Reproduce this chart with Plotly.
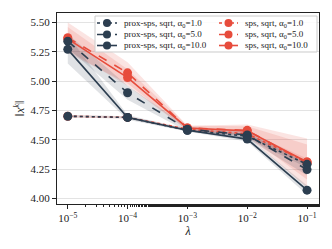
import plotly.graph_objects as go

lam = [1e-5, 1e-4, 1e-3, 1e-2, 1e-1]
x_tick_labels = ["10<sup>−5</sup>", "10<sup>−4</sup>", "10<sup>−3</sup>", "10<sup>−2</sup>", "10<sup>−1</sup>"]
y_ticks = [4.00, 4.25, 4.50, 4.75, 5.00, 5.25, 5.50]

prox_a1 = [4.70, 4.69, 4.58, 4.53, 4.29]
prox_a1_std = [0.01, 0.01, 0.01, 0.02, 0.03]
prox_a5 = [5.34, 4.90, 4.59, 4.54, 4.245]
prox_a5_std = [0.06, 0.06, 0.02, 0.03, 0.05]
prox_a10 = [5.27, 4.69, 4.58, 4.505, 4.07]
prox_a10_std = [0.12, 0.02, 0.01, 0.02, 0.04]

sps_a1 = [4.70, 4.69, 4.59, 4.55, 4.31]
sps_a1_std = [0.01, 0.01, 0.01, 0.02, 0.03]
sps_a5 = [5.37, 5.07, 4.60, 4.58, 4.30]
sps_a5_std = [0.13, 0.09, 0.02, 0.05, 0.21]
sps_a10 = [5.36, 5.03, 4.60, 4.575, 4.31]
sps_a10_std = [0.10, 0.07, 0.02, 0.04, 0.15]

DARK = "#2c3e50"
RED = "#e74c3c"
DARK_FILL = "rgba(44,62,80,0.15)"
RED_FILL = "rgba(231,76,60,0.15)"

# (label, values, std, colour, fill, dash, legend column, legend row)
series = [
    ("sps, sqrt, α<sub>0</sub>=1.0", sps_a1, sps_a1_std, RED, RED_FILL, "dot", 1, 0),
    ("sps, sqrt, α<sub>0</sub>=5.0", sps_a5, sps_a5_std, RED, RED_FILL, "dash", 1, 1),
    ("sps, sqrt, α<sub>0</sub>=10.0", sps_a10, sps_a10_std, RED, RED_FILL, "solid", 1, 2),
    ("prox-sps, sqrt, α<sub>0</sub>=1.0", prox_a1, prox_a1_std, DARK, DARK_FILL, "dot", 0, 0),
    ("prox-sps, sqrt, α<sub>0</sub>=5.0", prox_a5, prox_a5_std, DARK, DARK_FILL, "dash", 0, 1),
    ("prox-sps, sqrt, α<sub>0</sub>=10.0", prox_a10, prox_a10_std, DARK, DARK_FILL, "solid", 0, 2),
]

W, H = 332, 249
ML, MR, MT, MB = 57, 13, 13, 45
PL, PR, PT, PB = ML, W - MR, MT, H - MB

fig = go.Figure()
for name, y, s, col, fill, dash, c, r in series:
    upper = [a + b for a, b in zip(y, s)]
    lower = [a - b for a, b in zip(y, s)]
    fig.add_trace(go.Scatter(
        x=lam + lam[::-1], y=upper + lower[::-1], fill="toself",
        fillcolor=fill, line=dict(width=0), mode="lines",
        showlegend=False, hoverinfo="skip"))
for name, y, s, col, fill, dash, c, r in series:
    fig.add_trace(go.Scatter(
        x=lam, y=y, name=name, mode="lines+markers",
        line=dict(color=col, width=1.6, dash=dash),
        marker=dict(color=col, size=9), showlegend=False))

serif = "Liberation Serif, DejaVu Serif, serif"

# manual two-column legend, laid out in window pixels on an overlay axis
leg_box = dict(x0=95, x1=317, y0=16, y1=52)
col_x = [(97, 117, 122), (219, 238, 243)]  # line start, line end, text start
row_y = [23, 34.5, 45.5]
fig.add_shape(type="rect", xref="x2", yref="y2",
              x0=leg_box["x0"], x1=leg_box["x1"], y0=leg_box["y0"], y1=leg_box["y1"],
              fillcolor="rgba(255,255,255,0.85)", line=dict(color="#cccccc", width=1),
              layer="above")
for name, y, s, col, fill, dash, c, r in series:
    x0, x1, xt = col_x[c]
    yy = row_y[r]
    xm = (x0 + x1) / 2
    fig.add_shape(type="line", xref="x2", yref="y2", x0=x0, x1=x1, y0=yy, y1=yy,
                  line=dict(color=col, width=1.6, dash=dash), layer="above")
    fig.add_shape(type="circle", xref="x2", yref="y2",
                  xsizemode="pixel", ysizemode="pixel", xanchor=xm, yanchor=yy,
                  x0=-4, x1=4, y0=-4, y1=4,
                  fillcolor=col, line=dict(width=0), layer="above")
    fig.add_annotation(x=xt, y=yy, xref="x2", yref="y2", text=name,
                       showarrow=False, xanchor="left", yanchor="middle",
                       font=dict(family=serif, size=9, color="#222"))

fig.update_layout(
    width=W, height=H,
    margin=dict(l=ML, r=MR, t=MT, b=MB, autoexpand=False),
    paper_bgcolor="white", plot_bgcolor="white",
    font=dict(family=serif, size=11, color="#222"),
    showlegend=False,
    xaxis=dict(
        type="log", range=[-5.18, -0.8],
        tickvals=lam, ticktext=x_tick_labels,
        ticks="outside", ticklen=4, tickcolor="#222",
        minor=dict(ticks="outside", ticklen=2, tickcolor="#222", showgrid=False),
        showgrid=False, zeroline=False,
        showline=True, linecolor="#222", linewidth=1.2, mirror=True,
        title=dict(text="<i>λ</i>", standoff=2, font=dict(size=12)),
    ),
    yaxis=dict(
        range=[3.952, 5.58], tickvals=y_ticks,
        tickformat=".2f",
        ticks="outside", ticklen=4, tickcolor="#222",
        showgrid=True, gridcolor="#e3e3e3", gridwidth=1, zeroline=False,
        showline=True, linecolor="#222", linewidth=1.2, mirror=True,
        title=dict(text="‖<i>x</i><sup><i>k</i></sup>‖", standoff=3, font=dict(size=12)),
    ),
    xaxis2=dict(overlaying="x", range=[PL, PR], visible=False, fixedrange=True),
    yaxis2=dict(overlaying="y", range=[PB, PT], visible=False, fixedrange=True),
)

fig.write_html("out.html", config={"displayModeBar": False},
               post_script="document.body.style.margin='0';")
